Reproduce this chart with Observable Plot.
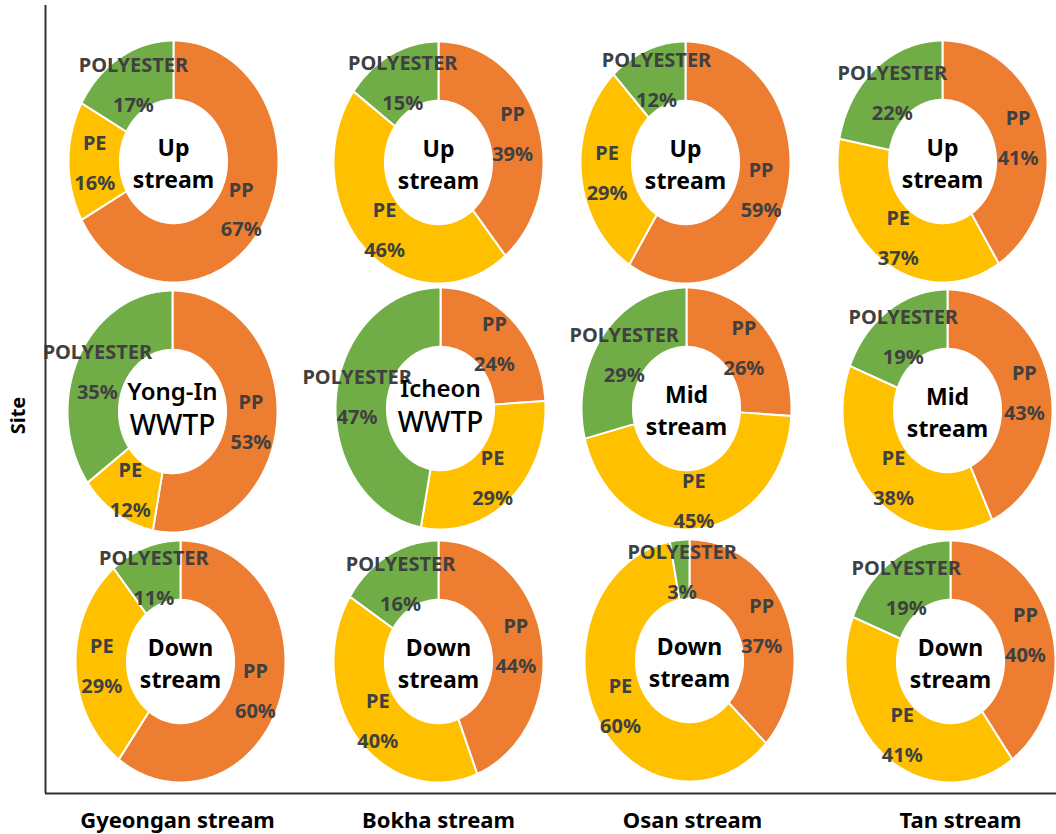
<!DOCTYPE html>
<html><head><meta charset="utf-8">
<script src="https://cdn.jsdelivr.net/npm/d3@7"></script>
<script src="https://cdn.jsdelivr.net/npm/@observablehq/plot@0.6"></script>
<style>html,body{margin:0;padding:0;background:#fff;}</style>
</head><body><div id="chart"></div>
<script>
// ---- data ----
const streams = ["Gyeongan stream", "Bokha stream", "Osan stream", "Tan stream"];
const materials = ["PP", "PE", "POLYESTER"];
const materialColors = ["#ED7D31", "#FFC000", "#70AD47"];
const siteLabels = [
  ["Up\nstream", "Up\nstream", "Up\nstream", "Up\nstream"],
  ["Yong-In|WWTP", "Icheon|WWTP", "Mid\nstream", "Mid\nstream"],
  ["Down\nstream", "Down\nstream", "Down\nstream", "Down\nstream"]
];
const ppShare        = [[67, 39, 59, 41], [53, 24, 26, 43], [60, 44, 37, 40]];
const peShare        = [[16, 46, 29, 37], [12, 29, 45, 38], [29, 40, 60, 41]];
const polyesterShare = [[17, 15, 12, 22], [35, 47, 29, 19], [11, 16,  3, 19]];

// ---- layout ----
const W = 1056, H = 834;
const cellX = [[173, 438, 685, 942], [172, 440, 686, 947], [180, 438, 689, 950]];
const cellY = [[161, 162, 162, 161], [411, 408, 408, 410], [661, 661, 660, 661]];
const labelX = [177, 438, 692, 960];
const RX = 105, RY = 121, HOLE = 0.51, LABEL_R = 0.75, LABEL_DY = -4;
const labelNudge = {"1-1-2": [-5, -5], "1-0-2": [-5, 0]};

const polys = [], sliceLabels = [], centerText = [], wwtpTop = [], wwtpBottom = [];
const pt = (cx, cy, r, t) => ({x: cx + r * RX * Math.sin(2 * Math.PI * t), y: cy - r * RY * Math.cos(2 * Math.PI * t)});

for (let r = 0; r < 3; r++) {
  for (let c = 0; c < 4; c++) {
    const vals = [ppShare[r][c], peShare[r][c], polyesterShare[r][c]];
    const total = d3.sum(vals);
    const cx = cellX[r][c], cy = cellY[r][c];
    let acc = 0;
    vals.forEach((v, k) => {
      const t0 = acc / total, t1 = (acc + v) / total;
      acc += v;
      const id = `${r}-${c}-${k}`;
      const n = Math.max(2, Math.ceil((t1 - t0) * 360));
      for (let i = 0; i <= n; i++) polys.push({id, mat: materials[k], ...pt(cx, cy, 1, t0 + (t1 - t0) * i / n)});
      for (let i = n; i >= 0; i--) polys.push({id, mat: materials[k], ...pt(cx, cy, HOLE, t0 + (t1 - t0) * i / n)});
      const m = pt(cx, cy, LABEL_R, (t0 + t1) / 2);
      const [nx, ny] = labelNudge[id] || [0, 0];
      sliceLabels.push({x: m.x + nx, y: m.y + LABEL_DY + ny, text: `${materials[k]}\n${v}%`});
    });
    const lab = siteLabels[r][c];
    if (lab.includes("|")) {
      const [a, b] = lab.split("|");
      wwtpTop.push({x: cx, y: cy - 19, text: a});
      wwtpBottom.push({x: cx, y: cy + 15, text: b});
    } else {
      centerText.push({x: cx, y: cy, text: lab});
    }
  }
}

const chart = Plot.plot({
  width: W, height: H, margin: 0,
  x: {domain: [0, W], range: [0, W], axis: null},
  y: {domain: [0, H], range: [0, H], axis: null},
  color: {domain: materials, range: materialColors},
  style: {fontFamily: "'Noto Sans', sans-serif", background: "#fff"},
  marks: [
    Plot.line(polys, {x: "x", y: "y", z: "id", fill: "mat", stroke: "white", strokeWidth: 2, curve: "linear-closed"}),
    Plot.text(sliceLabels, {x: "x", y: "y", text: "text", fill: "#404040", fontSize: 20, fontWeight: "bold", lineHeight: 2, lineAnchor: "middle"}),
    Plot.text(centerText, {x: "x", y: "y", text: "text", fill: "#000", fontSize: 23, fontWeight: "bold", lineHeight: 1.4, lineAnchor: "middle"}),
    Plot.text(wwtpTop, {x: "x", y: "y", text: "text", fill: "#000", fontSize: 24, fontWeight: 600, lineAnchor: "middle"}),
    Plot.text(wwtpBottom, {x: "x", y: "y", text: "text", fill: "#000", fontSize: 28, fontWeight: 500, lineAnchor: "middle"}),
    Plot.ruleX([45], {y1: 5, y2: 793, stroke: "#333", strokeWidth: 2}),
    Plot.ruleY([793], {x1: 45, x2: W, stroke: "#333", strokeWidth: 2}),
    Plot.text(streams, {x: (d, i) => labelX[i], y: 820, text: d => d, fill: "#000", fontSize: 22, fontWeight: "bold", lineAnchor: "middle"}),
    Plot.text(["Site"], {x: 18, y: 415, text: d => d, rotate: -90, fill: "#000", fontSize: 20, fontWeight: "bold", lineAnchor: "middle"})
  ]
});
document.getElementById("chart").appendChild(chart);
</script>
</body></html>
